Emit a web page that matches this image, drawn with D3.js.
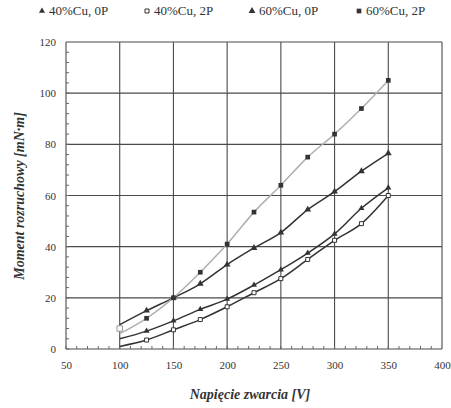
<!DOCTYPE html>
<html>
<head>
<meta charset="utf-8">
<script src="https://d3js.org/d3.v7.min.js"></script>
<style>
  body { margin: 0; background: #fff; }
  svg { display: block; font-family: "Liberation Serif", "DejaVu Serif", serif; }
  .grid line { stroke: #4a4a4a; stroke-width: 1.1; }
  .tick text { fill: #333; font-size: 11px; }
  .legend text { fill: #333; font-size: 13px; }
  .title { fill: #333; font-size: 14px; font-weight: bold; font-style: italic; }
</style>
</head>
<body>
<svg id="chart" width="451" height="408"></svg>
<script>
// napiecie (V)
var voltages = [100, 125, 150, 175, 200, 225, 250, 275, 300, 325, 350];
// moment rozruchowy (mN*m)
var cu40_0P = [4, 7, 11, 15.5, 19.5, 25, 31, 37.5, 45, 55, 63];
var cu40_2P = [1, 3.5, 7.5, 11.5, 16.5, 22, 27.5, 35, 42.5, 49, 60];
var cu60_0P = [9.5, 15, 20, 25.5, 33, 39.5, 45.5, 54.5, 61.5, 69.5, 76.5];
var cu60_2P = [6, 12, 20, 30, 41, 53.5, 64, 75, 84, 94, 105];
var cu60_2P_start = 8;
var seriesNames = ["40%Cu, 0P", "40%Cu, 2P", "60%Cu, 0P", "60%Cu, 2P"];
var xTicks = [50, 100, 150, 200, 250, 300, 350, 400];
var yTicks = [0, 20, 40, 60, 80, 100, 120];

var svg = d3.select("#chart"),
    width = +svg.attr("width"),
    height = +svg.attr("height");
var margin = {top: 42, right: 9, bottom: 59, left: 66};

var x = d3.scaleLinear().domain([50, 400]).range([margin.left, width - margin.right]);
var y = d3.scaleLinear().domain([0, 120]).range([height - margin.bottom, margin.top]);

// siatka
var grid = svg.append("g").attr("class", "grid");
grid.selectAll(".gx").data(xTicks).enter().append("line")
    .attr("x1", d => x(d)).attr("x2", d => x(d))
    .attr("y1", y(0)).attr("y2", y(120));
grid.selectAll(".gy").data(yTicks).enter().append("line")
    .attr("x1", x(50)).attr("x2", x(400))
    .attr("y1", d => y(d)).attr("y2", d => y(d));

// male podzialki
svg.append("g").selectAll("line").data(d3.range(0, 120, 4)).enter().append("line")
    .attr("x1", x(50)).attr("x2", x(50) + 3)
    .attr("y1", d => y(d)).attr("y2", d => y(d))
    .attr("stroke", "#666");
svg.append("g").selectAll("line").data(d3.range(50, 400, 10)).enter().append("line")
    .attr("x1", d => x(d)).attr("x2", d => x(d))
    .attr("y1", y(0)).attr("y2", y(0) - 3)
    .attr("stroke", "#666");

// osie
svg.append("g")
    .attr("transform", "translate(0," + (y(0) + 8) + ")")
    .call(d3.axisBottom(x).tickValues(xTicks).tickSize(0).tickPadding(4))
    .call(g => g.attr("font-family", null).attr("font-size", null))
    .call(g => g.select(".domain").remove());
svg.append("g")
    .attr("transform", "translate(" + (x(50) - 6) + ",0)")
    .call(d3.axisLeft(y).tickValues(yTicks).tickSize(0).tickPadding(4))
    .call(g => g.attr("font-family", null).attr("font-size", null))
    .call(g => g.select(".domain").remove());

svg.append("text").attr("class", "title")
    .attr("x", 250).attr("y", 399).attr("text-anchor", "middle")
    .text("Napięcie zwarcia  [V]");
svg.append("text").attr("class", "title")
    .attr("transform", "translate(24," + 196 + ") rotate(-90)")
    .attr("text-anchor", "middle")
    .text("Moment rozruchowy  [mN·m]");

// serie
var series = [
  {name: seriesNames[0], values: cu40_0P, line: "#333", marker: "tri", size: 16},
  {name: seriesNames[1], values: cu40_2P, line: "#333", marker: "open", size: 16},
  {name: seriesNames[2], values: cu60_0P, line: "#333", marker: "tri", size: 20},
  {name: seriesNames[3], values: cu60_2P, line: "#b0b0b0", marker: "sq", size: 22}
];

var line = d3.line()
    .x((d, i) => x(voltages[i]))
    .y(d => y(d))
    .curve(d3.curveMonotoneX);

function symbolPath(s) {
  var type = s.marker === "tri" ? d3.symbolTriangle : d3.symbolSquare;
  return d3.symbol().type(type).size(s.size)();
}

series.forEach(function(s) {
  svg.append("path")
      .datum(s.values)
      .attr("fill", "none")
      .attr("stroke", s.line)
      .attr("stroke-width", 1.5)
      .attr("d", line);
  svg.append("g").selectAll("path")
      .data(s.values.slice(1))
      .enter().append("path")
      .attr("transform", (d, i) => "translate(" + x(voltages[i + 1]) + "," + y(d) + ")")
      .attr("d", symbolPath(s))
      .attr("fill", s.marker === "open" ? "#fff" : "#333")
      .attr("stroke", "#333")
      .attr("stroke-width", s.marker === "open" ? 1 : 0);
});

// punkt przy 100 V
svg.append("path")
    .attr("transform", "translate(" + x(voltages[0]) + "," + y(cu60_2P_start) + ")")
    .attr("d", d3.symbol().type(d3.symbolSquare).size(30)())
    .attr("fill", "#fff").attr("stroke", "#999");

// legenda
var legendX = [38, 143, 248, 355];
var legend = svg.append("g").attr("class", "legend");
series.forEach(function(s, i) {
  var g = legend.append("g").attr("transform", "translate(" + legendX[i] + ",15)");
  g.append("path")
      .attr("transform", "translate(4,-4)")
      .attr("d", symbolPath(s))
      .attr("fill", s.marker === "open" ? "#fff" : "#333")
      .attr("stroke", "#333")
      .attr("stroke-width", s.marker === "open" ? 1 : 0);
  g.append("text").attr("x", 11).attr("y", 0).text(s.name);
});
</script>
</body>
</html>
